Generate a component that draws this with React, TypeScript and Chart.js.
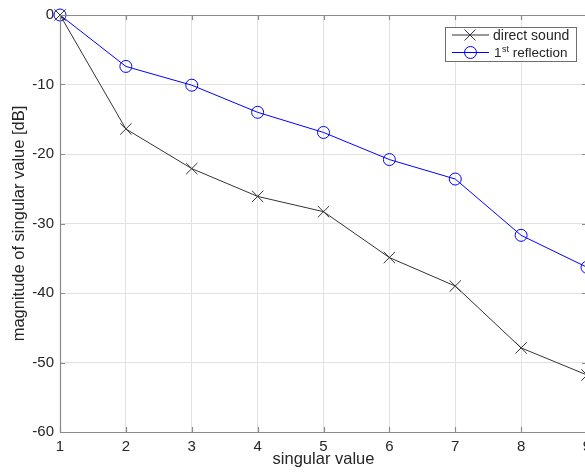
import React, { useEffect, useRef } from "react";
import { Chart, registerables } from "chart.js";

Chart.register(...registerables);

const singularIndex = [1, 2, 3, 4, 5, 6, 7, 8, 9];
const directSound = [0, -16.4, -22.1, -26.1, -28.3, -34.9, -39.0, -47.9, -51.8];
const firstReflection = [0, -7.4, -10.1, -14.0, -16.9, -20.8, -23.6, -31.7, -36.3];
const xTickValues = [1, 2, 3, 4, 5, 6, 7, 8, 9];
const yTickValues = [0, -10, -20, -30, -40, -50, -60];
const xTitle = "singular value";
const yTitle = "magnitude of singular value [dB]";
const legendLabels = ["direct sound", "reflection"];

const FONT = "'Liberation Sans', Arial, Helvetica, sans-serif";
const TEXT = "#262626";
const AXIS = "#8a8a8a";
const GRID = "#e2e2e2";
const BLACK = "#333333";
const BLUE = "#0000ff";

const framePlugin = {
  id: "frame",
  afterDraw(chart: any) {
    const { ctx, chartArea, scales } = chart;
    const { left, right, top, bottom } = chartArea;
    ctx.save();
    ctx.strokeStyle = AXIS;
    ctx.lineWidth = 1.2;
    ctx.beginPath();
    ctx.moveTo(Math.round(left) + 0.5, Math.round(top) + 0.5);
    ctx.lineTo(Math.round(right) + 0.5, Math.round(top) + 0.5);
    ctx.lineTo(Math.round(right) + 0.5, Math.round(bottom) + 0.5);
    ctx.lineTo(Math.round(left) + 0.5, Math.round(bottom) + 0.5);
    ctx.closePath();
    ctx.stroke();
    // inward ticks
    const tl = 5;
    ctx.beginPath();
    xTickValues.forEach((v) => {
      const x = Math.round(scales.x.getPixelForValue(v)) + 0.5;
      ctx.moveTo(x, bottom);
      ctx.lineTo(x, bottom - tl);
      ctx.moveTo(x, top);
      ctx.lineTo(x, top + tl);
    });
    yTickValues.forEach((v) => {
      const y = Math.round(scales.y.getPixelForValue(v)) + 0.5;
      ctx.moveTo(left, y);
      ctx.lineTo(left + tl, y);
      ctx.moveTo(right, y);
      ctx.lineTo(right - tl, y);
    });
    ctx.stroke();

    // legend
    const bx = 445.5, by = 27.5, bw = 131, bh = 34;
    ctx.fillStyle = "#ffffff";
    ctx.fillRect(bx, by, bw, bh);
    ctx.strokeStyle = "#6e6e6e";
    ctx.lineWidth = 1;
    ctx.strokeRect(bx, by, bw, bh);
    const rows = [
      { y: 35, color: BLACK, marker: "x" },
      { y: 52.5, color: BLUE, marker: "o" },
    ];
    rows.forEach((r) => {
      ctx.strokeStyle = r.color;
      ctx.lineWidth = 1;
      ctx.beginPath();
      ctx.moveTo(452, r.y);
      ctx.lineTo(489, r.y);
      ctx.stroke();
      ctx.beginPath();
      if (r.marker === "x") {
        const d = 5.5;
        ctx.moveTo(470 - d, r.y - d);
        ctx.lineTo(470 + d, r.y + d);
        ctx.moveTo(470 - d, r.y + d);
        ctx.lineTo(470 + d, r.y - d);
      } else {
        ctx.arc(470.5, r.y, 6, 0, Math.PI * 2);
      }
      ctx.stroke();
    });
    ctx.fillStyle = TEXT;
    ctx.textBaseline = "alphabetic";
    ctx.textAlign = "left";
    ctx.font = `14px ${FONT}`;
    ctx.fillText(legendLabels[0], 493, 39.5);
    ctx.font = `13.5px ${FONT}`;
    ctx.fillText("1", 494, 57);
    const w1 = ctx.measureText("1").width;
    ctx.font = `9px ${FONT}`;
    ctx.fillText("st", 494 + w1 + 0.5, 51.5);
    const w2 = ctx.measureText("st").width;
    ctx.font = `13.5px ${FONT}`;
    ctx.fillText(" " + legendLabels[1], 494 + w1 + 0.5 + w2, 57);
    ctx.restore();
  },
};

export default function App() {
  const ref = useRef<HTMLCanvasElement | null>(null);

  useEffect(() => {
    if (!ref.current) return;
    const chart = new Chart(ref.current, {
      type: "line",
      data: {
        datasets: [
          {
            label: "direct sound",
            data: singularIndex.map((x, i) => ({ x, y: directSound[i] })),
            borderColor: BLACK,
            backgroundColor: "transparent",
            borderWidth: 1,
            pointStyle: "crossRot",
            pointRadius: 8,
            pointBorderColor: BLACK,
            pointBorderWidth: 1,
            tension: 0,
            clip: false as any,
          },
          {
            label: "1st reflection",
            data: singularIndex.map((x, i) => ({ x, y: firstReflection[i] })),
            borderColor: BLUE,
            backgroundColor: "transparent",
            borderWidth: 1,
            pointStyle: "circle",
            pointRadius: 6,
            pointBorderColor: BLUE,
            pointBackgroundColor: "transparent",
            pointBorderWidth: 1,
            tension: 0,
            clip: false as any,
          },
        ],
      },
      options: {
        animation: false,
        responsive: false,
        devicePixelRatio: 1,
        layout: { padding: { top: 14, right: 33, bottom: 0, left: 0 } },
        plugins: {
          legend: { display: false },
          tooltip: { enabled: false },
        },
        scales: {
          x: {
            type: "linear",
            min: 1,
            max: 9,
            afterFit: (s: any) => {
              s.height = 40;
            },
            afterBuildTicks: (s: any) => {
              s.ticks = xTickValues.map((v) => ({ value: v }));
            },
            ticks: {
              stepSize: 1,
              padding: 6,
              color: TEXT,
              font: { family: FONT, size: 15 },
              maxRotation: 0,
            },
            grid: { color: GRID, lineWidth: 1, drawTicks: false },
            border: { display: false },
            title: {
              display: true,
              text: xTitle,
              color: TEXT,
              font: { family: FONT, size: 16.5 },
              padding: { top: 0, bottom: 3 },
            },
          },
          y: {
            type: "linear",
            min: -60,
            max: 0,
            afterFit: (s: any) => {
              s.width = 60;
            },
            afterBuildTicks: (s: any) => {
              s.ticks = yTickValues.map((v) => ({ value: v }));
            },
            ticks: {
              stepSize: 10,
              padding: 6,
              color: TEXT,
              font: { family: FONT, size: 15 },
            },
            grid: { color: GRID, lineWidth: 1, drawTicks: false },
            border: { display: false },
            title: {
              display: true,
              text: yTitle,
              color: TEXT,
              font: { family: FONT, size: 16.5 },
              padding: { top: 10, bottom: 0 },
            },
          },
        },
      },
      plugins: [framePlugin],
    });
    return () => chart.destroy();
  }, []);

  return (
    <div
      style={{
        position: "absolute",
        left: 0,
        top: 0,
        width: 585,
        height: 472,
        overflow: "hidden",
        background: "#ffffff",
      }}
    >
      <canvas ref={ref} width={620} height={472} style={{ display: "block" }} />
    </div>
  );
}
